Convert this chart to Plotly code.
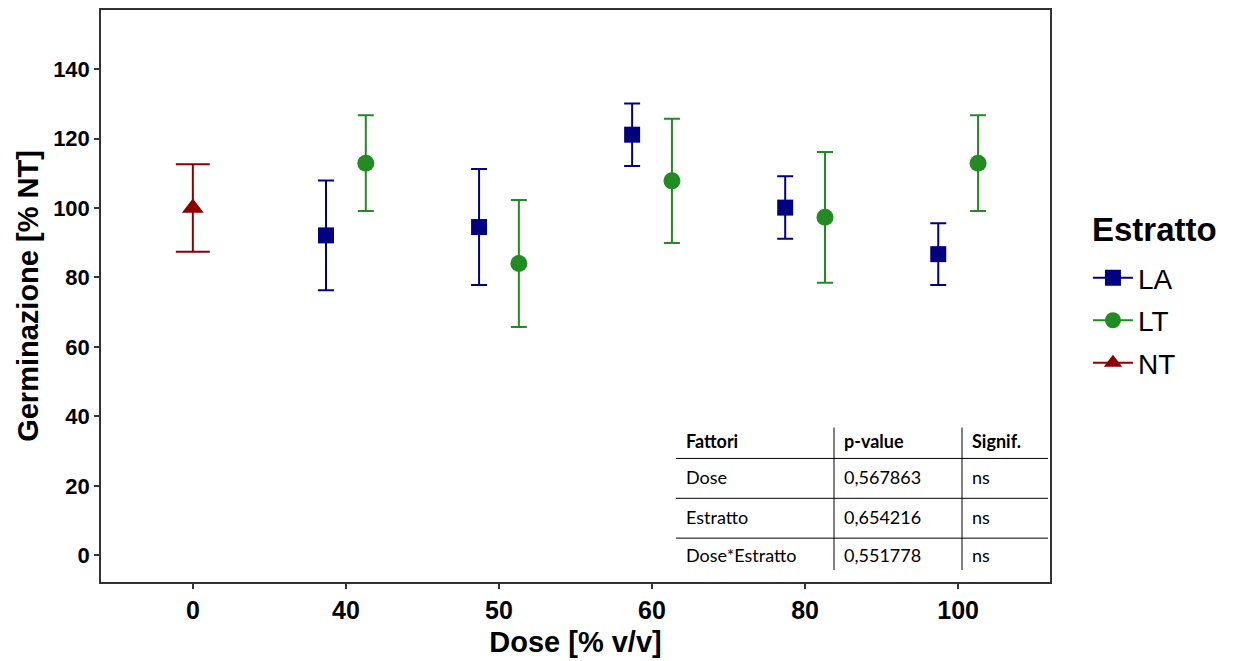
import plotly.graph_objects as go

# ---------------- data ----------------
dose_labels = ["0", "40", "50", "60", "80", "100"]

la_dose = ["40", "50", "60", "80", "100"]
la_mean = [92.1, 94.5, 121.1, 100.1, 86.7]
la_err = [15.8, 16.7, 9.0, 9.0, 8.9]

lt_dose = ["40", "50", "60", "80", "100"]
lt_mean = [112.9, 84.0, 107.8, 97.3, 112.9]
lt_err = [13.8, 18.3, 17.9, 18.8, 13.8]

nt_dose = ["0"]
nt_mean = [100.0]
nt_err = [12.6]

table_header = ["Fattori", "p-value", "Signif."]
table_factors = ["Dose", "Estratto", "Dose*Estratto"]
table_pvalues = ["0,567863", "0,654216", "0,551778"]
table_signif = ["ns", "ns", "ns"]

# ---------------- styling ----------------
W, H = 1237, 661
L, R, T, B = 101, 1050, 8, 582
col_la, col_lt, col_nt = "#000080", "#228B22", "#8B0000"
dodge = 0.13

def pos(doses, off):
    return [dose_labels.index(d) + off for d in doses]

fig = go.Figure()

series = [
    ("LA", la_dose, la_mean, la_err, col_la, "square", 16, -dodge, 8),
    ("LT", lt_dose, lt_mean, lt_err, col_lt, "circle", 17, dodge, 8),
    ("NT", nt_dose, nt_mean, nt_err, col_nt, "triangle-up", 19, 0.0, 17),
]

for name, d, m, e, c, sym, sz, off, capw in series:
    fig.add_trace(go.Scatter(
        x=pos(d, off), y=m, mode="markers", name=name, showlegend=False,
        marker=dict(color=c, symbol=sym, size=sz),
        error_y=dict(type="data", array=e, visible=True, color=c,
                     thickness=2, width=capw),
    ))

for i, (name, d, m, e, c, sym, sz, off, capw) in enumerate(series):
    fig.add_trace(go.Scatter(
        x=[None], y=[None], mode="lines+markers", name=name,
        legendgroup=name,
        marker=dict(color=c, symbol=sym, size=sz),
        line=dict(color=c, width=2),
    ))

# ---------------- table (shapes + annotations) ----------------
def px(xp):
    return (xp - L) / (R - L)

def py(yp):
    return (B - yp) / (B - T)

tbl_font = dict(family="Lato, Open Sans, sans-serif", size=18, color="#000000")
col_x = [684, 842, 970]
row_y = [441, 477, 517, 555]

for j, h in enumerate(table_header):
    fig.add_annotation(x=px(col_x[j]), y=py(row_y[0]), xref="paper", yref="paper",
                       text="<b>" + h + "</b>", showarrow=False,
                       xanchor="left", yanchor="middle", font=tbl_font)
for i in range(len(table_factors)):
    for j, v in enumerate([table_factors[i], table_pvalues[i], table_signif[i]]):
        fig.add_annotation(x=px(col_x[j]), y=py(row_y[i + 1]), xref="paper", yref="paper",
                           text=v, showarrow=False,
                           xanchor="left", yanchor="middle", font=tbl_font)

for yl in [458, 498, 538]:
    fig.add_shape(type="line", xref="paper", yref="paper",
                  x0=px(676), x1=px(1048), y0=py(yl), y1=py(yl),
                  line=dict(color="#000000", width=1))
for xl in [834, 962]:
    fig.add_shape(type="line", xref="paper", yref="paper",
                  x0=px(xl), x1=px(xl), y0=py(427), y1=py(570),
                  line=dict(color="#000000", width=1))

# ---------------- layout ----------------
arial = "Arial, Liberation Sans, sans-serif"
xtick_font = dict(family=arial, size=25, color="#000000", weight="bold")
ytick_font = dict(family=arial, size=22, color="#000000", weight="bold")
title_font = dict(family=arial, size=29, color="#000000")

# legend title as an annotation
fig.add_annotation(x=px(1090), y=py(228), xref="paper", yref="paper",
                   text="<b>Estratto</b>", showarrow=False,
                   xanchor="left", yanchor="middle",
                   font=dict(family=arial, size=33, color="#000000"))

fig.update_layout(
    width=W, height=H,
    margin=dict(l=L, r=W - R, t=T, b=H - B, pad=0),
    paper_bgcolor="white", plot_bgcolor="white",
    xaxis=dict(
        range=[-0.6, 5.6], tickmode="array",
        tickvals=list(range(len(dose_labels))), ticktext=dose_labels,
        showgrid=False, zeroline=False,
        showline=True, mirror=True, linecolor="#333333", linewidth=1.5,
        ticks="outside", ticklen=5, tickcolor="#333333", tickwidth=1.5,
        tickfont=xtick_font,
        title=dict(text="<b>Dose [% v/v]</b>", font=title_font, standoff=9),
    ),
    yaxis=dict(
        range=[-7.7, 157], tickmode="array", tickvals=list(range(0, 141, 20)),
        showgrid=False, zeroline=False,
        showline=True, mirror=True, linecolor="#333333", linewidth=1.5,
        ticks="outside", ticklen=5, tickcolor="#333333", tickwidth=1.5,
        tickfont=ytick_font,
        title=dict(text="<b>Germinazione [% NT]</b>", font=title_font, standoff=6),
    ),
    legend=dict(
        x=1.04, y=py(252), xanchor="left", yanchor="top",
        font=dict(family=arial, size=28, color="#000000"),
        tracegroupgap=3, itemwidth=40,
    ),
    showlegend=True,
)

fig.write_html("out.html")
